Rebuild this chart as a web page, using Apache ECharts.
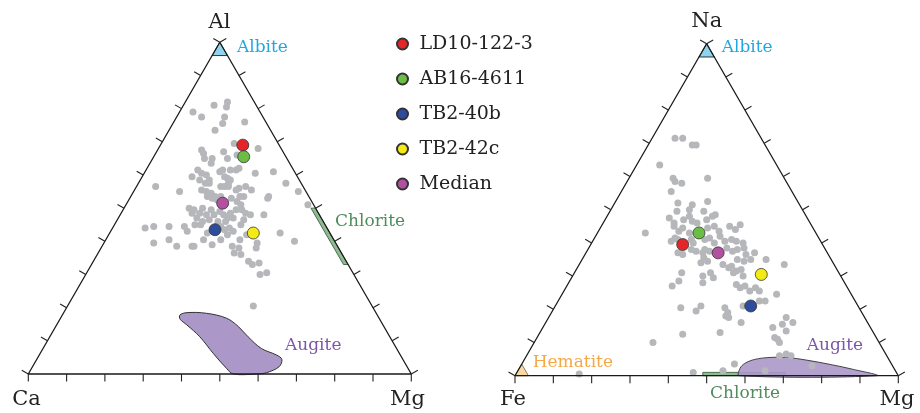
<!DOCTYPE html>
<html>
<head>
<meta charset="utf-8">
<script src="https://cdn.jsdelivr.net/npm/echarts@6/dist/echarts.min.js"></script>
<style>html,body{margin:0;padding:0;background:#fff}#c{width:920px;height:413px}</style>
</head>
<body>
<div id="c"></div>
<script>
// ---------- DATA ----------
// Left diagram: Al (top) – Ca (bottom left) – Mg (bottom right); pairs are [Al %, Mg %], Ca = 100 - Al - Mg
const leftGreyAlMg = [
 [81,8],[82,11],[80.5,11.5],[79,3.5],[77.5,6.5],[77.5,12.5],[75.5,13],[76,18.5],[73.5,12],[69.5,19],
 [68,26],[67.5,11.5],[66.5,12.5],[67,17.5],[65,19.5],[65,13.5],[65,15.5],[66,21.5],[63.5,16],[61,33.5],
 [60.5,29],[61.5,13.5],[60.5,15],[61,19.5],[61.5,20],[61.5,22],[61.5,23.5],[62,24],[59.5,13],[60,16.5],
 [58.5,18],[58.5,15.5],[57.5,17.5],[57.5,18.5],[59,22.5],[59.5,21.5],[58.5,23.5],[57.5,23.5],[56.5,22],[56.5,23],
 [56.5,24],[56.5,5],[55,12],[55.5,17.5],[55,19],[54.5,20.5],[55.5,26.5],[56,27],[56.5,28.5],[55.5,30.5],
 [57.5,38.5],[55,43],[53.5,36],[53.5,22],[53.5,23.5],[53.5,28.5],[53.5,29.5],[53.5,20],[53,21.5],[52.5,23],
 [53,26.5],[52,28.5],[51,30],[49.5,31],[48.5,32.5],[53,36],[51,47.5],[50,17],[49.5,18.5],[48.5,18.5],
 [50,20.5],[48.5,20.5],[48,22.5],[49.5,23],[48,24.5],[49,25.5],[48,27],[47,28.5],[48.5,28.5],[47,30],
 [49.5,29.5],[47,20.5],[46,22.5],[46.5,24],[46,26.5],[46,28.5],[44.5,28],[48,34],[48,37.5],[46.5,33],
 [45,33],[44,8.5],[44.5,10.5],[44.5,14.5],[44.5,18.5],[43,20],[45,21],[45,22.5],[42.5,25.5],[43.5,29.5],
 [44,30.5],[42,31],[43,32],[42,36],[42.5,44.5],[39.5,13],[40.5,16.5],[38.5,19.5],[38.5,23.5],[38.5,24],
 [40.5,25.5],[39,28.5],[40.5,30],[40.5,35],[38.5,34],[38,36],[39.5,40],[38,40.5],[40,49.5],[36.5,35.5],
 [36,37.5],[34,40.5],[33,42],[33.5,43.5],[30,45.5],[30.5,47],[20.5,48.5]
];
// Right diagram: Na (top) – Fe (bottom left) – Mg (bottom right); pairs are [Na %, Mg %], Fe = 100 - Na - Mg
const rightGreyNaMg = [
 [71.5,6],[71.5,8],[69.5,11.5],[69.5,12.5],[63.5,6],[59.5,11.5],[58.5,12.5],[58,14.5],[59.5,20.5],[55.5,13],
 [52,16.5],[51.5,20.5],[52.5,24],[49.5,17.5],[50,20.5],[49.5,24.5],[48.5,28],[47.5,16.5],[46,18.5],[47,20.5],
 [48,21.5],[46.5,23],[46,24.5],[47,26.5],[48,27.5],[43,12.5],[45,19],[43.5,21],[44.5,21.5],[43,24],
 [44.5,28],[45,29.5],[43.5,31.5],[45,33.5],[44,35.5],[45.5,36],[41.5,21],[40.5,20.5],[41,22],[41,25.5],
 [40,26.5],[41,29],[41.5,30],[40,32],[42,32.5],[40.5,34.5],[41,36],[40.5,37.5],[40,39.5],[37,24],
 [36.5,25.5],[38,27],[37.5,28.5],[37,30.5],[38,30.5],[37.5,32],[35.5,31.5],[34.5,33],[34,31.5],[38.5,36],
 [37.5,38],[38,39],[38.5,40.5],[36.5,42],[37,44],[35,44],[34.5,42.5],[35,40.5],[33.5,37.5],[32.5,39.5],
 [33,40],[31,41.5],[31.5,42],[32,43],[30,44.5],[35,48],[33.5,53.5],[31,28],[30,34],[31,35.5],
 [29.5,37],[28.5,28.5],[27,27.5],[28,35],[27.5,44],[26.5,45.5],[27,46.5],[25.5,48.5],[26.5,49.5],[25.5,51],
 [24.5,56],[22.5,52.5],[22.5,54],[20.5,33],[19.5,37.5],[21,38],[20.5,44.5],[19,46],[18,46],[17.5,47],
 [21,49],[16,51],[17.5,62],[15.5,62],[16,64.5],[13.5,64],[14.5,60],[12.5,37.5],[13,47],[10,31],
 [11.5,62],[11,63],[10,64],[6,66],[6.5,67.5],[6,69],[3.5,55.5],[1.5,53.5],[1,46],[1.5,64.5],
 [3,76],[0.5,16.5]
];
const sampleNames = ['LD10-122-3','AB16-4611','TB2-40b','TB2-42c','Median'];
const leftSamplesAlMg  = [[69,21.5],[65.5,23.5],[43.5,27],[42.5,37.5],[51.5,25]];
const rightSamplesNaMg = [[39.5,24],[43,26.5],[21,51],[30.5,49],[37,34.5]];
const sampleColors = ['#e52629','#6cbd45','#2e4c9c','#f3ea16','#b1519f'];
// mineral fields, [top %, Mg %]
const albiteField   = [[100,0],[96,0],[96,4]];
const hematiteField = [[0,0],[0,3.5],[3.5,0]];
const chloriteLeft  = [[50,50],[33,67],[33,65.8],[50,48.8]];
const chloriteRight = [[0,49],[0,70.5],[1,70],[1,48.5]];
const augiteLeft = [[17.8,30.7],[18.5,32.2],[18.3,37.4],[16.8,43.4],[14.3,47.7],[11.2,51.8],[7.7,57],[5.7,62],
  [4.4,64],[2.2,64.4],[0.4,62],[0,59.6],[0,53.5],[1.7,50.9],[6.2,45.2],[11.2,39.2],[14.8,34],[16.5,31.4]];
const augiteRight = [[0,58.5],[2.2,57.6],[3.7,58.1],[4.9,60.1],[5.5,63.8],[5.5,68.1],[4.7,73.7],[3.4,80.5],
  [1.9,87.3],[0,94.4]];
const tickPct = [0,10,20,30,40,50,60,70,80,90,100];
const triangleVertices = [[0,0],[0,100],[100,0],[0,0]];

// ---------- helpers ----------
const FONT = '"DejaVu Serif", serif';
function toXY(p){ return [p[1] + p[0]/2, p[0]]; }

function polygonSeries(gi, pts, fill, stroke, z, smooth, opacity){
  return {
    type:'custom', xAxisIndex:gi, yAxisIndex:gi, silent:true, z:z, clip:false,
    data: pts.map(toXY),
    renderItem: function(params, api){
      if (params.dataIndex !== 0) return null;
      const points = pts.map(p => api.coord(toXY(p)));
      return {type:'polygon', shape:{points:points, smooth:smooth||0},
              style:{fill:fill, stroke:stroke, lineWidth:1, opacity:opacity==null?1:opacity}};
    }
  };
}
function tickSeries(gi){
  const d = [];
  tickPct.forEach(t => {
    d.push(toXY([0,t]).concat([-90]));        // bottom edge
    d.push(toXY([t,0]).concat([150]));        // left edge
    d.push(toXY([t,100-t]).concat([30]));     // right edge
  });
  return {
    type:'custom', xAxisIndex:gi, yAxisIndex:gi, silent:true, z:20, clip:false, data:d,
    renderItem: function(params, api){
      const p = api.coord([api.value(0), api.value(1)]);
      const a = api.value(2)*Math.PI/180, L = 7.5;
      return {type:'line', shape:{x1:p[0], y1:p[1], x2:p[0]+L*Math.cos(a), y2:p[1]-L*Math.sin(a)},
              style:{stroke:'#222', lineWidth:1.1}};
    }
  };
}
function outlineSeries(gi){
  return {type:'line', xAxisIndex:gi, yAxisIndex:gi, data:triangleVertices.map(toXY), symbol:'none',
          silent:true, z:19, clip:false, lineStyle:{color:'#1a1a1a', width:1.3}};
}
function greySeries(gi, pts){
  return {type:'scatter', name:'all', xAxisIndex:gi, yAxisIndex:gi, data:pts.map(toXY), symbolSize:7,
          silent:true, z:5, itemStyle:{color:'#b6b7ba', opacity:1}};
}
function sampleSeries(gi, pts){
  return sampleNames.map((n,i) => ({
    type:'scatter', name:n, xAxisIndex:gi, yAxisIndex:gi, data:[toXY(pts[i])], symbolSize:12, z:10,
    itemStyle:{color:sampleColors[i], borderColor:'#333', borderWidth:0.8, opacity:1}
  }));
}
function txt(text, x, y, size, color, align){
  return {type:'text', x:x, y:y, silent:true, z:50,
          style:{text:text, font:size+'px '+FONT, fill:color, align:align||'center', verticalAlign:'middle'}};
}

const series = [
  polygonSeries(0, chloriteLeft, '#8fba92', '#4d6e50', 3, 0),
  polygonSeries(0, augiteLeft, '#ab98c9', '#333', 3, 0.35),
  polygonSeries(0, albiteField, '#8fd4ef', '#333', 3, 0),
  polygonSeries(1, chloriteRight, '#8fba92', '#4d6e50', 2, 0),
  polygonSeries(1, augiteRight, '#ab98c9', '#333', 3, 0.35, 0.9),
  polygonSeries(1, albiteField, '#8fd4ef', '#333', 3, 0),
  polygonSeries(1, hematiteField, '#fbd9a3', '#8a7a60', 3, 0),
  greySeries(0, leftGreyAlMg), greySeries(1, rightGreyNaMg),
  ...sampleSeries(0, leftSamplesAlMg), ...sampleSeries(1, rightSamplesNaMg),
  outlineSeries(0), outlineSeries(1), tickSeries(0), tickSeries(1)
];

const chart = echarts.init(document.getElementById('c'), null, {renderer:'canvas'});
chart.setOption({
  animation:false,
  backgroundColor:'#fff',
  grid:[{left:28.3, top:42.3, width:383, height:331.7},{left:515, top:43.7, width:383.3, height:332}],
  xAxis:[{gridIndex:0,type:'value',min:0,max:100,show:false},{gridIndex:1,type:'value',min:0,max:100,show:false}],
  yAxis:[{gridIndex:0,type:'value',min:0,max:100,show:false},{gridIndex:1,type:'value',min:0,max:100,show:false}],
  legend:{data:sampleNames, orient:'vertical', left:391, top:28.5, itemWidth:24, itemHeight:11, itemGap:14,
          icon:'circle', textStyle:{fontFamily:'DejaVu Serif', fontSize:19, color:'#222', lineHeight:21}},
  graphic:[
    txt('Al',219.5,22.5,21,'#222'), txt('Ca',26.5,400,21,'#222'), txt('Mg',407.5,400,21,'#222'),
    txt('Na',706.7,22,21,'#222'), txt('Fe',513,400,21,'#222'), txt('Mg',897,400,21,'#222'),
    txt('Albite',237,48,17,'#21a7df','left'), txt('Albite',721.7,48,17,'#21a7df','left'),
    txt('Chlorite',335,221.5,17,'#4f8c5b','left'), txt('Augite',285,345.7,17,'#7d56a8','left'),
    txt('Hematite',532.7,362.3,17,'#f4a846','left'), txt('Chlorite',710,394,17,'#4f8c5b','left'),
    txt('Augite',806.7,345.7,17,'#7d56a8','left')
  ],
  series:series
});
</script>
</body>
</html>
